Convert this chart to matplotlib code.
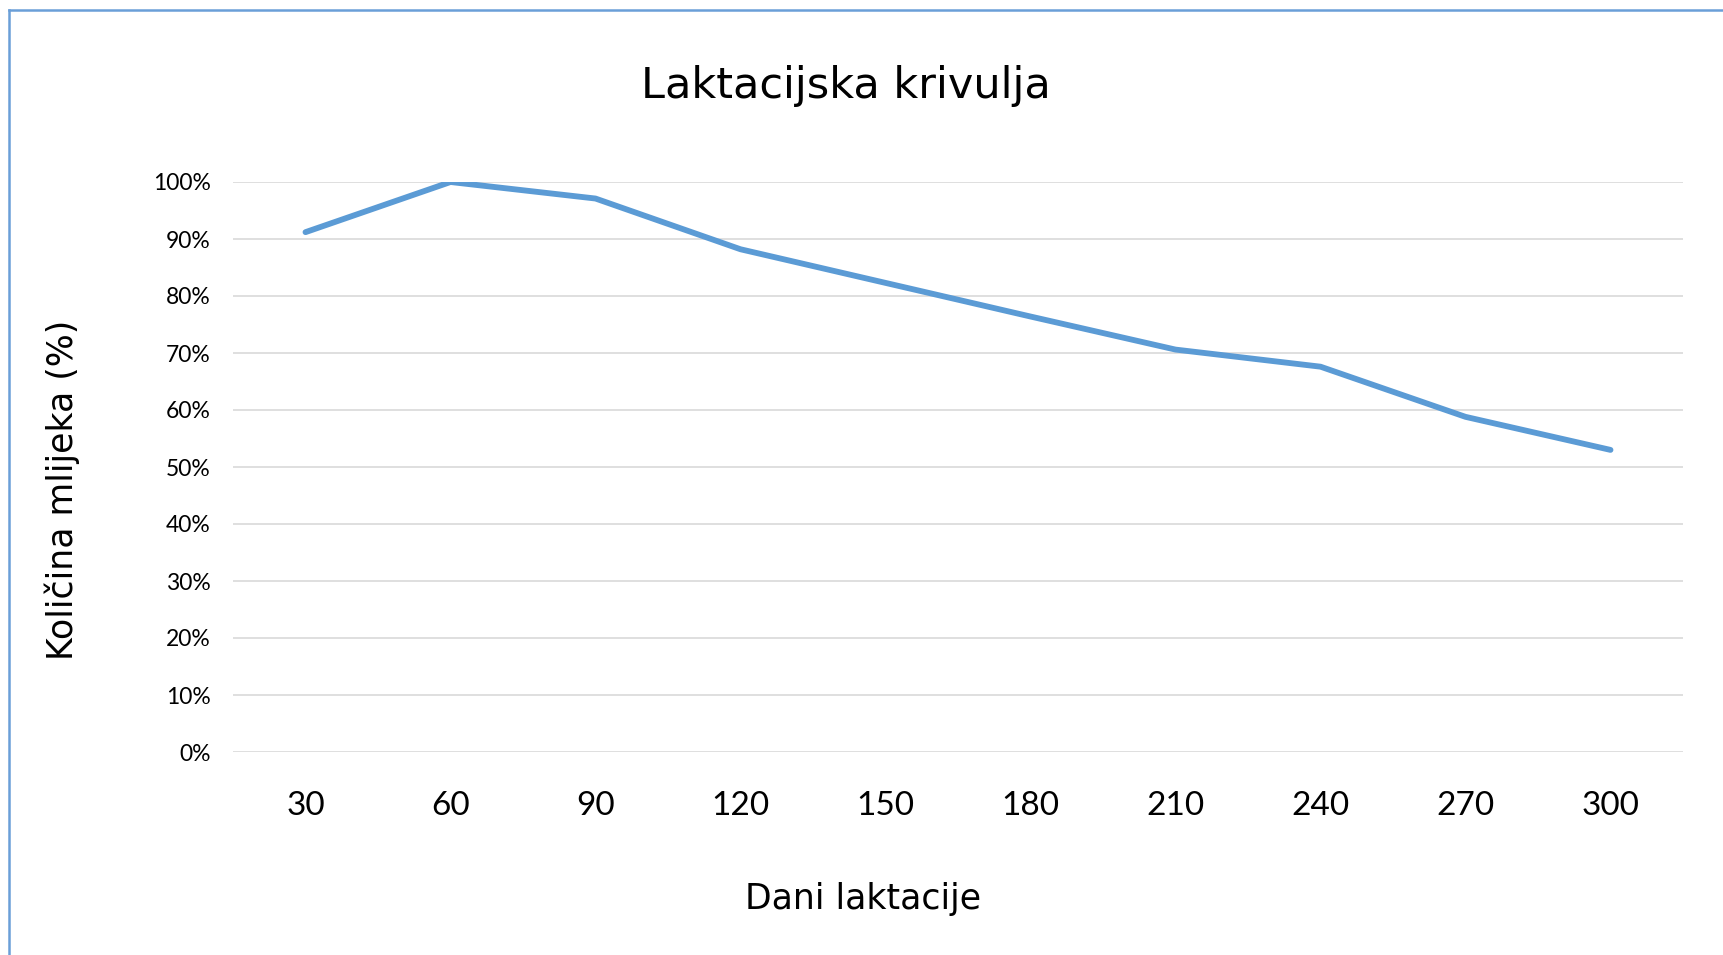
import numpy as np
import matplotlib
matplotlib.use('Agg')
import matplotlib.pyplot as plt
from matplotlib.lines import Line2D

#### data ####
days = ['30', '60', '90', '120', '150', '180', '210', '240', '270', '300']
milk_pct = [91.2, 100, 97.1, 88.2, 82.3, 76.4, 70.6, 67.6, 58.8, 53.0]
yticks = [0, 10, 20, 30, 40, 50, 60, 70, 80, 90, 100]

W, H = 1723, 955
fig = plt.figure(figsize=(W / 100, H / 100), dpi=100)
ax = fig.add_axes([233 / W, 1 - 752 / H, 1450 / W, 570 / H])

x = np.arange(len(days))
ax.plot(x, milk_pct, color='#5B9BD5', lw=4.2, solid_capstyle='round',
        solid_joinstyle='round', zorder=3)

ax.set_xlim(-0.5, len(days) - 0.5)
ax.set_ylim(0, 100)
ax.set_yticks(yticks)
ax.set_yticklabels([f'{v}%' for v in yticks], fontsize=16.5, family='Lato')
ax.set_xticks(x)
ax.set_xticklabels(days, fontsize=24, family='Lato')
ax.tick_params(axis='both', length=0)
ax.tick_params(axis='y', pad=16)
ax.tick_params(axis='x', pad=28)
ax.grid(axis='y', color='#D9D9D9', lw=1.2)
ax.set_axisbelow(True)
for s in ax.spines.values():
    s.set_visible(False)

# titles
fig.text(846 / W, 1 - 86 / H, 'Laktacijska krivulja', fontsize=31,
         ha='center', va='center')
fig.text(863 / W, 1 - 899 / H, 'Dani laktacije', fontsize=25,
         ha='center', va='center')
fig.text(62 / W, 1 - 490 / H, 'Količina mlijeka (%)', fontsize=25,
         ha='center', va='center', rotation=90)

# chart-area border (only top and left visible in the crop)
bc = '#6A9FD8'
fig.add_artist(Line2D([9 / W, 9 / W], [0, 1 - 10 / H], color=bc, lw=1.8,
                      transform=fig.transFigure))
fig.add_artist(Line2D([9 / W, 1], [1 - 10 / H, 1 - 10 / H], color=bc, lw=1.8,
                      transform=fig.transFigure))

fig.savefig('out.png', dpi=100, facecolor='white')
